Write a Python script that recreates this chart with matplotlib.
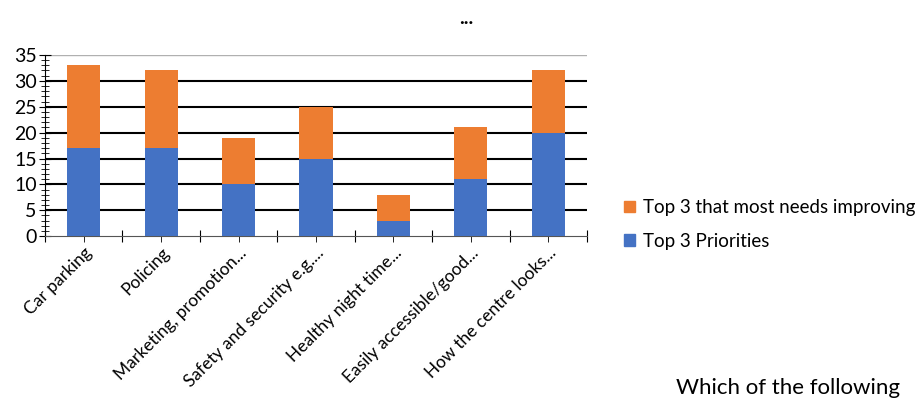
import numpy as np
import matplotlib.pyplot as plt
from matplotlib.patches import Patch
from matplotlib.ticker import MultipleLocator

plt.rcParams['font.family'] = ['Lato', 'DejaVu Sans']

# values
categories = ['Car parking', 'Policing', 'Marketing, promotion...',
              'Safety and security e.g....', 'Healthy night time...',
              'Easily accessible/good...', 'How the centre looks...']
priorities = [17, 17, 10, 15, 3, 11, 20]       # blue, bottom
needs_improving = [16, 15, 9, 10, 5, 10, 12]   # orange, on top

BLUE = '#4472C4'
ORANGE = '#ED7D31'

fig = plt.figure(figsize=(9.2, 4.01), dpi=100)
ax = fig.add_axes([0.049, 0.411, 0.589, 0.452])

x = np.arange(len(categories))
ax.bar(x, priorities, width=0.43, color=BLUE, zorder=3)
ax.bar(x, needs_improving, width=0.43, bottom=priorities, color=ORANGE, zorder=3)

ax.set_xlim(-0.5, len(categories) - 0.5)
ax.set_ylim(0, 35)

# gridlines: black inside, grey at the top
for yv in range(5, 35, 5):
    ax.axhline(yv, color='black', lw=1.5, zorder=1)
ax.axhline(35, color='#b0b0b0', lw=1, zorder=1)

for s in ['top', 'right']:
    ax.spines[s].set_visible(False)
ax.spines['left'].set_color('black')
ax.spines['bottom'].set_color('#555555')

ax.yaxis.set_major_locator(MultipleLocator(5))
ax.yaxis.set_minor_locator(MultipleLocator(1))
ax.tick_params(axis='y', which='major', direction='inout', length=8, labelsize=14, pad=2)
ax.tick_params(axis='y', which='minor', direction='inout', length=6)

# category ticks at boundaries and centres, labels on centres
ax.set_xticks(np.arange(-0.5, len(categories), 1.0))
ax.set_xticklabels([])
ax.set_xticks(x, minor=True)
ax.set_xticklabels(categories, minor=True, rotation=45, ha='right',
                   rotation_mode='anchor', fontsize=12.5)
ax.tick_params(axis='x', which='both', direction='inout', length=8, color='black')
ax.tick_params(axis='x', which='minor', pad=2)

handles = [Patch(color=ORANGE, label='Top 3 that most needs improving'),
           Patch(color=BLUE, label='Top 3 Priorities')]
fig.legend(handles=handles, loc='center left', bbox_to_anchor=(0.66, 0.44),
           frameon=False, fontsize=13.5, handlelength=0.6, handleheight=0.6,
           handletextpad=0.4, labelspacing=0.9)

fig.text(0.507, 0.955, '...', ha='center', va='center', fontsize=14, fontweight='bold')
fig.text(0.735, 0.008, 'Which of the following', ha='left', va='bottom', fontsize=16)

fig.savefig('out.png', dpi=100)
